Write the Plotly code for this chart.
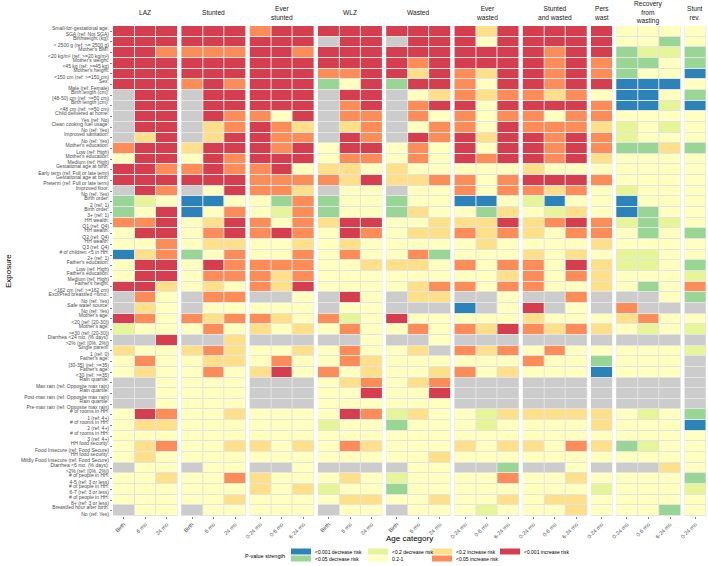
import plotly.graph_objects as go
from plotly.subplots import make_subplots

variables = [
    "Small-for-gestational age:", "Birthweight (kg):", "Mother's BMI:", "Mother's weight:",
    "Mother's height:", "Sex:", "Birth length (cm):", "Birth length (cm):",
    "Child delivered at home:", "Clean cooking fuel usage:", "Improved sanitation:",
    "Mother's education:", "Mother's education:", "Gestational age at birth:",
    "Gestational age at birth:", "Improved floor:", "Birth order:", "Birth order:",
    "HH wealth:", "HH wealth:", "HH wealth:", "# of children <5 in HH:",
    "Father's education:", "Father's education:", "Father's height:",
    "Excl/Pred breastfed <6mo.:", "Safe water source:", "Mother's age:", "Mother's age:",
    "Diarrhea <24 mo. (% days):", "Single parent:", "Father's age:", "Father's age:",
    "Rain quartile:", "Rain quartile:", "Rain quartile:", "# of rooms in HH:",
    "# of rooms in HH:", "# of rooms in HH:", "HH food security:", "HH food security:",
    "Diarrhea <6 mo. (% days):", "# of people in HH:", "# of people in HH:",
    "# of people in HH:", "Breastfed hour after birth:",
]
levels = [
    "SGA (ref: Not SGA)", "< 2500 g (ref: >= 2500 g)", "<20 kg/m² (ref: >=20 kg/m²)",
    "<45 kg (ref: >=45 kg)", "<150 cm (ref: >=150 cm)", "Male (ref: Female)",
    "[48-50) cm (ref: >=50 cm)", "<48 cm (ref: >=50 cm)", "Yes (ref: No)", "No (ref: Yes)",
    "No (ref: Yes)", "Low (ref: High)", "Medium (ref: High)",
    "Early term (ref: Full or late term)", "Preterm (ref: Full or late term)",
    "No (ref: Yes)", "2 (ref: 1)", "3+ (ref: 1)", "Q1 (ref: Q4)", "Q2 (ref: Q4)",
    "Q3 (ref: Q4)", "2+ (ref: 1)", "Low (ref: High)", "Medium (ref: High)",
    "<162 cm (ref: >=162 cm)", "No (ref: Yes)", "No (ref: Yes)", "<20 (ref: [20-30))",
    ">=30 (ref: [20-30))", ">2% (ref: [0%, 2%])", "1 (ref: 0)", "[30-35) (ref: >=35)",
    "<30 (ref: >=35)", "Max rain (ref: Opposite max rain)",
    "Post-max rain (ref: Opposite max rain)", "Pre-max rain (ref: Opposite max rain)",
    "1 (ref: 4+)", "2 (ref: 4+)", "3 (ref: 4+)", "Food Insecure (ref: Food Secure)",
    "Mildly Food Insecure (ref: Food Secure)", ">2% (ref: [0%, 2%])",
    "4-5 (ref: 3 or less)", "6-7 (ref: 3 or less)", "8+ (ref: 3 or less)", "No (ref: Yes)",
]

panel_titles = ["LAZ", "Stunted", "Ever<br>stunted", "WLZ", "Wasted", "Ever<br>wasted",
                "Stunted<br>and wasted", "Pers<br>wast", "Recovery<br>from<br>wasting",
                "Stunt<br>rev."]
age_birth = ["Birth", "6 mo", "24 mo"]
age_cum = ["0-24 mo", "0-6 mo", "6-24 mo"]
age_one = ["0-24 mo"]
panel_ages = [age_birth, age_birth, age_cum, age_birth, age_birth, age_cum, age_cum,
              age_one, age_cum, age_one]

# P-value strength codes: B <0.001 dec, G <0.05 dec, L <0.2 dec, P 0.2-1,
# Y <0.2 inc, O <0.05 inc, R <0.001 inc, N missing
LAZ = ["RRR","RRR","RRO","RRR","RRR","RRR","NRR","NRR","NRR","NRR","NYR","ORR","PRR",
       "RRO","RRR","NRO","GLP","GPR","OOR","PRR","PPO","BYO","PRR","PRR","RRY","NOP",
       "NYP","ROP","LPP","NNR","YPP","POP","PYP","NNP","NNP","NNP","PRO","PYY","PPP",
       "PYO","PYP","NPP","PPY","PPP","PPP","NPP"]
STUNTED = ["RRR","RRR","OOO","RRR","RRR","ORO","NRR","NRR","NRO","NYO","NYR","YRR","PRO",
           "ORO","RRR","NPR","BBP","BPO","PYR","POR","PYY","GPO","PRO","POO","PYP","NOO",
           "NPP","OYO","POP","NNY","YOY","PYY","POP","PPP","PPP","PPP","PPY","PPP","PPP",
           "PPY","PPP","NPP","PPO","PPP","PPY","NPP"]
EVER_STUNTED = ["ORR","RRR","RRO","RRR","RRR","RRR","RRR","RRR","OPR","ROY","ROO","ROR",
                "RRR","ORP","OOO","OOY","PGO","PLO","OPO","ORO","PPY","PPO","OOO","OYO",
                "OYR","NNP","PPP","OYP","YPY","NNN","PPY","POP","YRP","NNN","NNN","NNN",
                "PPP","PPP","PPP","YPY","PPP","NNP","YPP","YPY","PPP","PPP"]
WLZ = ["RRR","NRR","RRR","RRR","OOR","GPR","NRR","NOR","NOO","NYO","NRO","PRR","POO",
       "YYP","OYR","NPP","GPP","GPP","YRR","PRO","PYP","POP","PPY","PPP","PPP","NRP",
       "NPP","OLP","POP","NNP","POP","POY","OPY","PYO","PPR","PPP","PRO","LPP","PPP",
       "POY","PPP","NNN","PYP","LPP","PYY","NPP"]
WASTED = ["RRR","NRR","RRR","ROR","RYR","GRR","NPY","NOR","NOP","NPO","NRO","POP","POP",
          "YPP","YYO","NPP","GPP","GYP","PPY","PYY","PPP","POG","YYP","PPP","PYO","NYY",
          "NNN","RPP","POP","NNP","PYN","PPP","PPY","PYO","PPR","PPP","LYP","GPP","PPP",
          "PPP","PPY","NPP","LPP","GPP","PPY","NPP"]
EVER_WASTED = ["RYR","RPR","RRR","RRR","OYR","OPR","OYO","RPR","OPO","OPR","RYR","RPR",
               "ROR","PPP","OPO","OPO","BBP","PGY","YYR","OYO","PYP","PPP","OPO","PPY",
               "OPO","NNP","BNP","PPP","OYR","NNN","OYO","PPP","OPY","NNN","NNN","NNN",
               "PLY","PLP","PPP","YPY","PPP","NNG","PPO","PPP","PPY","PLP"]
STUNTED_WASTED = ["RRR","RRR","ROR","ROR","ROR","ROR","OYO","RRR","OPO","OOO","ROR","ROR",
                  "ROR","YPP","RRR","OYO","LBP","PLY","YOR","YPO","PPP","YPY","OPR","OPO",
                  "OPP","NNO","RNP","YPP","OYO","NNN","POP","OPP","PPP","NNN","NNN","NNN",
                  "YYY","PPP","PPP","YPO","PPP","NNP","PPY","PPP","PYY","PPY"]
PERS_WAST = ["R","R","R","O","O","R","P","O","O","Y","O","O","Y","P","O","P","P","P","O",
             "O","Y","P","Y","Y","Y","N","N","P","Y","N","P","G","B","N","N","N","Y","Y",
             "P","Y","P","N","P","L","P","P"]
RECOVERY = ["PPP","PPG","GLL","GGP","GPP","BBB","BBP","BBL","PPP","LPL","LPP","GGY","PPP",
            "PPP","PPP","LPP","BPP","BGP","LGL","PGP","PPP","LLP","LLP","PPP","PGP","NNP",
            "ONN","YOP","PLP","NNN","PPP","PPP","PPP","NNN","NNN","NNN","PLP","PPP","PPP",
            "GLP","PPP","NNY","PPP","PPP","PPP","PPG"]
STUNT_REV = ["P","P","G","G","B","P","G","B","P","P","P","G","P","P","P","P","P","P","P",
             "G","P","P","G","L","O","G","N","P","L","N","L","N","N","N","N","N","G","B",
             "P","P","P","P","G","L","P","P"]

panel_data = [LAZ, STUNTED, EVER_STUNTED, WLZ, WASTED, EVER_WASTED, STUNTED_WASTED,
              PERS_WAST, RECOVERY, STUNT_REV]

legend_labels = ["<0.001 decrease risk", "<0.05 decrease risk", "<0.2 decrease risk", "0.2-1",
                 "<0.2 increase risk", "<0.05 increase risk", "<0.001 increase risk"]
code_order = ["B", "G", "L", "P", "Y", "O", "R", "N"]
colors = ["#2b83ba", "#99d594", "#e6f598", "#ffffbf", "#fee08b", "#fc8d59", "#d53e4f", "#cccccc"]


def esc(s):
    return s.replace("&", "&amp;").replace("<", "&lt;").replace(">", "&gt;")


ylabels = [esc(v) + "<br>" + esc(l) for v, l in zip(variables, levels)]

ncat = len(colors)
colorscale = []
for i, c in enumerate(colors):
    colorscale.append([i / ncat, c])
    colorscale.append([(i + 1) / ncat, c])

FONT = "Liberation Sans, Arial, sans-serif"
OFF = 0  # body margin removed by post_script
W, H = 708, 566
ML, MR, MT, MB = 113, 2, 26, 50
PW, PH = W - ML - MR, H - MT - MB

widths = [len(a) for a in panel_ages]
fig = make_subplots(rows=1, cols=len(panel_data), column_widths=widths,
                    horizontal_spacing=3.7 / PW, shared_yaxes=True)

nrows = len(ylabels)
for i, (data, ages) in enumerate(zip(panel_data, panel_ages)):
    z = [[code_order.index(ch) for ch in row] for row in data]
    fig.add_trace(go.Heatmap(x=ages, y=list(range(nrows)), z=z, colorscale=colorscale,
                             zmin=-0.5, zmax=ncat - 0.5, showscale=False,
                             xgap=1, ygap=1, hoverinfo="skip"),
                  row=1, col=i + 1)
    fig.update_xaxes(type="category", tickangle=-45, ticks="outside", ticklen=2,
                     tickcolor="#333333", tickwidth=0.6, automargin=False,
                     tickfont=dict(size=5.5, color="#4d4d4d", family=FONT),
                     showgrid=False, zeroline=False, showline=False,
                     row=1, col=i + 1)
    fig.update_yaxes(range=[nrows - 0.5, -0.5], showgrid=False, zeroline=False,
                     showline=False, automargin=False, row=1, col=i + 1,
                     ticks="" if i > 0 else "outside")

fig.update_yaxes(tickvals=list(range(nrows)), ticktext=ylabels, ticklen=2,
                 tickcolor="#333333", tickwidth=0.6,
                 tickfont=dict(size=5.0, color="#4d4d4d", family=FONT),
                 row=1, col=1)


def px2x(px):
    return (px - OFF - ML) / PW


def py2y(py):
    return (MT + PH - (py - OFF)) / PH


annotations = []
for i, t in enumerate(panel_titles):
    dom = fig.layout["xaxis" if i == 0 else f"xaxis{i + 1}"].domain
    annotations.append(dict(text=t, x=(dom[0] + dom[1]) / 2, y=py2y(12.8),
                            xref="paper", yref="paper", xanchor="center", yanchor="middle",
                            showarrow=False, font=dict(size=6.6, color="#1a1a1a", family=FONT)))

annotations.append(dict(text="Exposure", textangle=-90, x=px2x(8), y=0.5, xref="paper",
                        yref="paper", showarrow=False, xanchor="center", yanchor="middle",
                        font=dict(size=8, color="#000000", family=FONT)))
annotations.append(dict(text="Age category", x=0.5, y=py2y(538), xref="paper", yref="paper",
                        showarrow=False, xanchor="center", yanchor="middle",
                        font=dict(size=8, color="#000000", family=FONT)))

# legend (two rows, filled column-wise)
shapes = []
annotations.append(dict(text="P-value strength", x=px2x(287), y=py2y(555.5), xref="paper",
                        yref="paper", showarrow=False, xanchor="right", yanchor="middle",
                        font=dict(size=5.5, color="#000000", family=FONT)))
col_x = [291, 368, 432, 500]
row_y = [551.5, 558.5]
for k, lab in enumerate(legend_labels):
    cx = col_x[k // 2]
    cy = row_y[k % 2]
    shapes.append(dict(type="rect", xref="paper", yref="paper", x0=px2x(cx), x1=px2x(cx + 20),
                       y0=py2y(cy - 3), y1=py2y(cy + 3), fillcolor=colors[k],
                       line=dict(width=0)))
    annotations.append(dict(text=esc(lab), x=px2x(cx + 22), y=py2y(cy), xref="paper",
                            yref="paper", showarrow=False, xanchor="left", yanchor="middle",
                            font=dict(size=5, color="#000000", family=FONT)))

fig.update_layout(width=W, height=H, margin=dict(l=ML, r=MR, t=MT, b=MB, autoexpand=False),
                  paper_bgcolor="white", plot_bgcolor="#e4e4e4", showlegend=False,
                  annotations=annotations, shapes=shapes, font=dict(family=FONT))

fig.write_html("out.html", config={"displayModeBar": False, "staticPlot": True},
               post_script="document.body.style.margin='0';document.body.style.overflow='hidden';")
